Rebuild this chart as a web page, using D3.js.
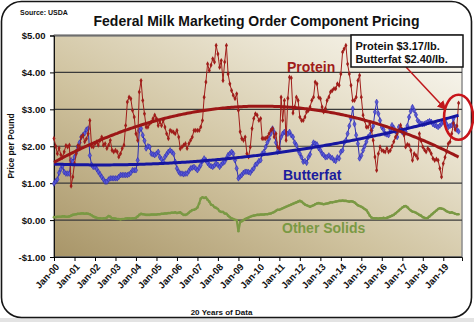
<!DOCTYPE html>
<html><head><meta charset="utf-8">
<script src="https://cdn.jsdelivr.net/npm/d3@7"></script>
<style>
body{margin:0;background:#fff;}
svg{display:block;font-family:"Liberation Sans",Arial,Helvetica,sans-serif;}
</style>
</head><body>
<svg id="chart" width="474" height="322"></svg>
<script>
// ---------- DATA (monthly, Jan-2000 .. Oct-2019, $/lb) ----------
const firstMonth = new Date(2000, 0, 1);
const protein = [
 2.21,2.00,1.80,1.95,1.77,1.70,1.85,2.02,1.98,2.03,0.92,1.17,
 1.53,1.80,2.02,1.98,2.25,2.30,2.12,2.20,2.34,2.70,2.00,1.98,
 2.07,2.12,2.03,2.16,2.25,2.03,2.07,1.94,2.03,2.16,1.89,1.85,
 1.89,1.85,1.71,1.80,1.94,2.03,2.56,3.20,3.33,3.29,2.97,2.79,
 2.34,2.16,3.47,3.78,3.24,2.88,2.52,2.52,2.61,2.66,2.75,2.84,
 2.75,2.56,2.66,2.56,2.70,2.52,2.34,2.21,2.43,2.40,2.38,2.34,
 2.43,2.25,1.93,1.98,2.03,2.07,1.94,2.07,2.16,2.25,2.43,2.43,
 2.43,2.43,2.52,2.70,3.33,3.74,4.23,4.05,4.20,4.37,4.28,4.73,
 4.50,4.14,4.32,3.78,4.28,4.73,3.96,3.69,3.51,3.38,3.29,3.42,
 2.97,2.39,2.21,2.16,2.25,1.80,1.71,1.98,2.48,2.75,2.88,2.84,
 2.70,2.75,2.21,2.21,2.21,2.25,2.34,2.43,2.48,2.25,2.34,1.98,
 1.94,3.33,2.70,3.24,2.16,3.30,3.87,3.85,2.90,3.06,3.33,3.24,
 2.79,2.70,2.70,2.79,2.93,2.97,3.06,3.24,3.33,3.74,3.69,3.33,
 3.29,3.06,2.93,3.02,3.24,3.33,3.47,3.51,3.56,3.56,3.69,3.65,
 3.96,4.55,4.64,4.73,4.23,3.96,3.65,3.24,3.24,3.33,3.78,3.92,
 3.33,2.84,2.70,2.52,2.52,2.61,2.43,2.16,1.71,1.35,1.80,1.98,
 1.89,1.87,1.85,1.94,1.85,1.89,2.00,2.12,2.25,2.34,2.43,2.57,
 2.45,2.30,1.98,2.05,2.03,1.89,1.62,1.80,1.75,1.67,2.34,2.15,
 1.98,1.90,1.85,1.94,1.89,1.80,1.67,1.62,1.65,1.62,1.40,1.17,
 1.53,1.70,1.85,2.07,2.12,2.34,2.62,2.45,2.55,3.17
];
const butterfat = [
 0.99,1.05,1.10,1.28,1.38,1.47,1.30,1.26,1.26,1.26,1.62,1.58,
 1.71,1.85,1.98,2.10,2.25,2.30,2.35,2.45,2.48,1.75,1.50,1.44,
 1.44,1.38,1.31,1.24,1.17,1.10,1.04,1.04,1.10,1.13,1.13,1.13,
 1.13,1.13,1.17,1.22,1.22,1.22,1.22,1.22,1.24,1.28,1.35,1.35,
 1.35,1.62,2.43,2.48,2.30,2.15,1.94,2.00,1.98,1.80,1.78,1.76,
 1.80,1.85,1.71,1.65,1.58,1.71,1.78,1.85,1.89,1.85,1.80,1.58,
 1.40,1.31,1.26,1.26,1.24,1.26,1.26,1.33,1.40,1.42,1.44,1.40,
 1.35,1.42,1.49,1.60,1.67,1.62,1.55,1.49,1.46,1.44,1.48,1.53,
 1.50,1.44,1.50,1.55,1.58,1.67,1.76,1.80,1.85,1.80,1.62,1.40,
 1.13,1.18,1.22,1.28,1.31,1.31,1.30,1.28,1.35,1.40,1.50,1.53,
 1.60,1.62,1.80,1.85,1.98,2.10,2.20,2.34,2.48,2.38,2.10,1.85,
 1.92,2.25,2.34,2.39,2.34,2.34,2.39,2.30,2.25,2.10,2.03,1.89,
 1.80,1.70,1.58,1.60,1.55,1.70,1.78,1.98,2.10,2.07,2.05,1.95,
 1.89,1.80,1.76,1.70,1.71,1.75,1.70,1.68,1.62,1.60,1.70,1.67,
 1.85,1.89,2.10,2.16,2.34,2.55,2.75,3.02,2.60,2.30,2.07,1.67,
 1.75,1.89,2.00,2.12,2.25,2.30,2.43,2.55,2.93,3.20,2.88,2.70,
 2.52,2.45,2.34,2.32,2.30,2.45,2.57,2.50,2.40,2.25,2.52,2.45,
 2.38,2.34,2.39,2.55,2.79,2.95,3.06,2.97,2.85,2.70,2.65,2.61,
 2.60,2.61,2.63,2.66,2.68,2.66,2.60,2.57,2.55,2.52,2.56,2.61,
 2.66,2.70,2.60,2.52,2.55,2.57,2.75,2.52,2.45,2.40
];
const otherSolids = [
 0.08,0.08,0.09,0.09,0.09,0.10,0.10,0.09,0.09,0.10,0.12,0.14,
 0.15,0.16,0.17,0.17,0.18,0.18,0.17,0.18,0.17,0.16,0.13,0.10,
 0.08,0.06,0.05,0.05,0.04,0.05,0.05,0.07,0.11,0.09,0.05,0.05,
 0.04,0.03,0.03,0.02,0.03,0.03,0.04,0.05,0.05,0.04,0.05,0.05,
 0.06,0.10,0.14,0.17,0.16,0.15,0.14,0.14,0.14,0.15,0.15,0.15,
 0.15,0.16,0.16,0.17,0.17,0.18,0.18,0.19,0.19,0.20,0.20,0.21,
 0.19,0.20,0.21,0.17,0.14,0.14,0.16,0.20,0.24,0.27,0.28,0.30,
 0.34,0.45,0.58,0.62,0.60,0.61,0.55,0.50,0.42,0.40,0.35,0.33,
 0.30,0.24,0.22,0.22,0.18,0.17,0.12,0.08,0.05,0.03,0.01,0.00,
 -0.30,-0.05,-0.03,0.00,0.03,0.05,0.07,0.09,0.11,0.12,0.13,0.14,
 0.14,0.15,0.15,0.15,0.16,0.16,0.17,0.18,0.20,0.22,0.25,0.28,
 0.28,0.30,0.32,0.34,0.36,0.38,0.40,0.42,0.44,0.46,0.48,0.50,
 0.52,0.50,0.46,0.42,0.40,0.38,0.36,0.38,0.40,0.43,0.45,0.46,
 0.45,0.44,0.43,0.44,0.45,0.46,0.48,0.48,0.49,0.50,0.51,0.52,
 0.52,0.53,0.52,0.52,0.51,0.50,0.51,0.50,0.48,0.44,0.40,0.38,
 0.36,0.33,0.30,0.27,0.20,0.12,0.07,0.05,0.05,0.05,0.04,0.05,
 0.05,0.06,0.05,0.06,0.08,0.10,0.12,0.14,0.18,0.22,0.26,0.30,
 0.34,0.37,0.38,0.35,0.30,0.26,0.23,0.22,0.20,0.17,0.14,0.12,
 0.08,0.06,0.05,0.06,0.10,0.14,0.18,0.22,0.26,0.30,0.32,0.31,
 0.30,0.27,0.24,0.22,0.20,0.21,0.19,0.17,0.16,0.16
];
const yTicks = [-1, 0, 1, 2, 3, 4, 5];
const tickYears = d3.range(2000, 2020);           // Jan-00 .. Jan-19
const seriesNames = ["Protein", "Butterfat", "Other Solids"];
const calloutLines = ["Protein $3.17/lb.", "Butterfat $2.40/lb."];
const titleText = "Federal Milk Marketing Order Component Pricing";
const sourceText = "Source: USDA";
const yTitle = "Price per Pound";
const xTitle = "20 Years of Data";

// ---------- LAYOUT ----------
const svg = d3.select("#chart");
const W = 474, H = 322;
const plot = {l: 54, r: 462, t: 35.5, b: 257};
const months = protein.map((_, i) => new Date(2000, i, 1));

const x = d3.scaleTime()
  .domain([firstMonth, new Date(2019, 11, 1)])
  .range([plot.l, plot.r]);
const y = d3.scaleLinear().domain([-1, 5]).range([plot.b, plot.t]);

// defs
const defs = svg.append("defs");
const g1 = defs.append("linearGradient").attr("id", "bg")
  .attr("x1", "0").attr("y1", "1").attr("x2", "1").attr("y2", "0");
g1.append("stop").attr("offset", "0%").attr("stop-color", "#a89568");
g1.append("stop").attr("offset", "40%").attr("stop-color", "#cfc29e");
g1.append("stop").attr("offset", "75%").attr("stop-color", "#ebe5d3");
g1.append("stop").attr("offset", "100%").attr("stop-color", "#fbfaf5");
defs.append("marker").attr("id", "arrow").attr("viewBox", "0 0 10 10")
  .attr("refX", 9).attr("refY", 5).attr("markerWidth", 6).attr("markerHeight", 6)
  .attr("orient", "auto")
  .append("path").attr("d", "M0,0 L10,5 L0,10 z").attr("fill", "#c0181c");

// page / card
svg.append("rect").attr("x", 0).attr("y", 0).attr("width", W).attr("height", H).attr("fill", "#fff");
svg.append("rect").attr("x", 0).attr("y", 318).attr("width", W).attr("height", 4).attr("fill", "#e3e3e3");
svg.append("rect").attr("x", 1.5).attr("y", 1.5).attr("width", 470).attr("height", 316)
  .attr("rx", 20).attr("fill", "#fff").attr("stroke", "#161616").attr("stroke-width", 1.6);

// plot background
svg.append("rect").attr("x", plot.l).attr("y", plot.t)
  .attr("width", plot.r - plot.l).attr("height", plot.b - plot.t)
  .attr("fill", "url(#bg)").attr("stroke", "#8c8c8c").attr("stroke-width", 1.5);

// gridlines
svg.append("g").selectAll("line").data(yTicks).join("line")
  .attr("x1", plot.l).attr("x2", plot.r)
  .attr("y1", d => y(d)).attr("y2", d => y(d))
  .attr("stroke", d => d === 5 ? "#6e6e6e" : "#3a3a3a")
  .attr("stroke-width", d => d === 5 ? 2 : 1.1);

// axes
const fmtMoney = d => (d < 0 ? "-$" : "$") + Math.abs(d).toFixed(2);
const yAxis = svg.append("g").attr("transform", `translate(${plot.l},0)`)
  .call(d3.axisLeft(y).tickValues(yTicks).tickFormat(fmtMoney).tickSize(4).tickPadding(4.5));
yAxis.select(".domain").attr("stroke", "#111");
yAxis.selectAll("text").attr("font-size", "9.5px").attr("font-weight", "bold").attr("fill", "#111");

const xAxis = svg.append("g").attr("transform", `translate(0,${plot.b})`)
  .call(d3.axisBottom(x).tickValues(tickYears.map(yr => new Date(yr, 0, 1)))
    .tickFormat(d3.timeFormat("%b-%y")).tickSize(4));
xAxis.select(".domain").attr("stroke", "#111");
xAxis.selectAll("text")
  .attr("font-size", "9.5px").attr("font-weight", "bold").attr("fill", "#111")
  .attr("text-anchor", "end").attr("x", 0).attr("y", 0).attr("dy", "0.35em")
  .attr("transform", "translate(3,8) rotate(-47)");

// titles
svg.append("text").attr("x", 256.5).attr("y", 26).attr("text-anchor", "middle")
  .attr("font-size", "14px").attr("font-weight", "bold").attr("fill", "#111").text(titleText);
svg.append("text").attr("x", 20).attr("y", 15)
  .attr("font-size", "7px").attr("font-weight", "bold").attr("fill", "#111").text(sourceText);
svg.append("text").attr("transform", "translate(14,146) rotate(-90)").attr("text-anchor", "middle")
  .attr("font-size", "8.5px").attr("font-weight", "bold").attr("fill", "#111").text(yTitle);
svg.append("text").attr("x", 221.5).attr("y", 315).attr("text-anchor", "middle")
  .attr("font-size", "8px").attr("font-weight", "bold").attr("fill", "#111").text(xTitle);

// ---------- SERIES ----------
const line = d3.line().x((d, i) => x(months[i])).y(d => y(d));

function quadFit(vals) {
  let S = [0,0,0,0,0], T = [0,0,0];
  vals.forEach((v, i) => {
    let p = 1;
    for (let k = 0; k < 5; k++) { S[k] += p; if (k < 3) T[k] += p * v; p *= i; }
  });
  const M = [[S[0],S[1],S[2]],[S[1],S[2],S[3]],[S[2],S[3],S[4]]];
  const det = m => m[0][0]*(m[1][1]*m[2][2]-m[1][2]*m[2][1]) - m[0][1]*(m[1][0]*m[2][2]-m[1][2]*m[2][0]) + m[0][2]*(m[1][0]*m[2][1]-m[1][1]*m[2][0]);
  const D = det(M);
  const coef = [0,1,2].map(c => det(M.map((row, r) => row.map((v, j) => j === c ? T[r] : v))) / D);
  return vals.map((_, i) => coef[0] + coef[1]*i + coef[2]*i*i);
}

const green = "#7a9944", red = "#a01d1a", blue = "#2b2bb3";

// Other solids
svg.append("path").datum(otherSolids).attr("d", line)
  .attr("fill", "none").attr("stroke", green).attr("stroke-width", 2.2);
svg.append("g").selectAll("circle").data(otherSolids).join("circle")
  .attr("cx", (d, i) => x(months[i])).attr("cy", d => y(d)).attr("r", 1.3).attr("fill", green);

// Butterfat
svg.append("path").datum(butterfat).attr("d", line)
  .attr("fill", "none").attr("stroke", blue).attr("stroke-width", 1);
svg.append("g").selectAll("path").data(butterfat).join("path")
  .attr("d", d3.symbol(d3.symbolDiamond, 9))
  .attr("transform", (d, i) => `translate(${x(months[i])},${y(d)})`)
  .attr("fill", "#5a5ad6").attr("stroke", blue).attr("stroke-width", 0.6);

// Protein
svg.append("path").datum(protein).attr("d", line)
  .attr("fill", "none").attr("stroke", red).attr("stroke-width", 1);
svg.append("g").selectAll("path").data(protein).join("path")
  .attr("d", d3.symbol(d3.symbolDiamond, 8))
  .attr("transform", (d, i) => `translate(${x(months[i])},${y(d)})`)
  .attr("fill", red);

// Trend lines (2nd-order polynomial fits)
svg.append("path").datum(quadFit(butterfat)).attr("d", line.curve(d3.curveLinear))
  .attr("fill", "none").attr("stroke", "#1616a0").attr("stroke-width", 3);
svg.append("path").datum(quadFit(protein)).attr("d", line)
  .attr("fill", "none").attr("stroke", "#9c1616").attr("stroke-width", 3);

// series labels
const labelStyle = [
  {name: seriesNames[0], x: 287, y: 72, c: "#a01d1a"},
  {name: seriesNames[1], x: 283, y: 180, c: "#1c1c9e"},
  {name: seriesNames[2], x: 282, y: 233, c: "#7a9944"}
];
svg.append("g").selectAll("text").data(labelStyle).join("text")
  .attr("x", d => d.x).attr("y", d => d.y).attr("fill", d => d.c)
  .attr("font-size", "14px").attr("font-weight", "bold").text(d => d.name);

// ---------- CALLOUT ----------
const last = protein.length - 1;
const lx = x(months[last]);
const cy = (y(protein[last]) + y(butterfat[last])) / 2;
svg.append("ellipse").attr("cx", lx).attr("cy", cy).attr("rx", 14.5).attr("ry", 22.5)
  .attr("fill", "none").attr("stroke", "#c8141a").attr("stroke-width", 2.6);
svg.append("line").attr("x1", 406).attr("y1", 67).attr("x2", lx - 13).attr("y2", cy - 8)
  .attr("stroke", "#c0181c").attr("stroke-width", 1.5).attr("marker-end", "url(#arrow)");
svg.append("rect").attr("x", 351).attr("y", 35).attr("width", 112).attr("height", 32)
  .attr("fill", "#fff").attr("stroke", "#111").attr("stroke-width", 1.5);
svg.append("g").selectAll("text").data(calloutLines).join("text")
  .attr("x", 355.5).attr("y", (d, i) => 50 + i * 13.3)
  .attr("font-size", "11px").attr("font-weight", "bold").attr("fill", "#111").text(d => d);
</script>
</body></html>
